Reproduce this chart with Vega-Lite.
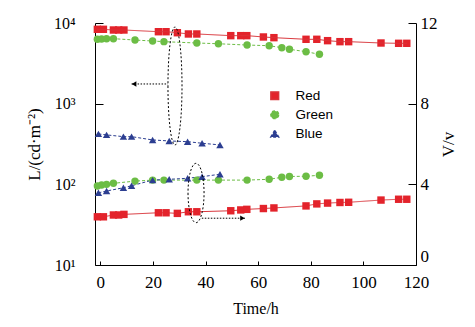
{
  "$schema": "https://vega.github.io/schema/vega-lite/v6.json",
  "width": 321,
  "height": 242,
  "autosize": {"type": "none"},
  "padding": {"left": 95, "top": 23, "right": 59, "bottom": 62},
  "config": {"view": {"stroke": null}, "font": "Liberation Serif"},
  "datasets": {
    "main": [
      {"s": "Red", "t": -1.1, "L": 8350, "V": 2.39},
      {"s": "Red", "t": 1.2, "L": 8350, "V": 2.39},
      {"s": "Red", "t": 5.0, "L": 8190, "V": 2.48},
      {"s": "Red", "t": 7.0, "L": 8190, "V": 2.48},
      {"s": "Red", "t": 9.0, "L": 8190, "V": 2.51},
      {"s": "Red", "t": 22.1, "L": 7800, "V": 2.59},
      {"s": "Red", "t": 25.0, "L": 7800, "V": 2.59},
      {"s": "Red", "t": 29.3, "L": 7580, "V": 2.56},
      {"s": "Red", "t": 33.5, "L": 7310, "V": 2.64},
      {"s": "Red", "t": 36.7, "L": 7310, "V": 2.64},
      {"s": "Red", "t": 49.6, "L": 6970, "V": 2.69},
      {"s": "Red", "t": 53.4, "L": 6970, "V": 2.73},
      {"s": "Red", "t": 55.7, "L": 6970, "V": 2.76},
      {"s": "Red", "t": 62.0, "L": 6710, "V": 2.8},
      {"s": "Red", "t": 66.0, "L": 6580, "V": 2.83},
      {"s": "Red", "t": 78.2, "L": 6280, "V": 2.93},
      {"s": "Red", "t": 82.3, "L": 6280, "V": 3.03},
      {"s": "Red", "t": 86.4, "L": 6040, "V": 3.07},
      {"s": "Red", "t": 91.1, "L": 5870, "V": 3.1},
      {"s": "Red", "t": 94.4, "L": 5870, "V": 3.11},
      {"s": "Red", "t": 106.7, "L": 5650, "V": 3.22},
      {"s": "Red", "t": 113.4, "L": 5600, "V": 3.26},
      {"s": "Red", "t": 116.5, "L": 5600, "V": 3.26},
      {"s": "Green", "t": -1.1, "L": 6280, "V": 3.92},
      {"s": "Green", "t": 0.5, "L": 6340, "V": 3.97},
      {"s": "Green", "t": 2.4, "L": 6390, "V": 4.0},
      {"s": "Green", "t": 5.0, "L": 6390, "V": 4.05},
      {"s": "Green", "t": 13.2, "L": 6150, "V": 4.16},
      {"s": "Green", "t": 19.9, "L": 5980, "V": 4.21},
      {"s": "Green", "t": 24.2, "L": 5870, "V": 4.21},
      {"s": "Green", "t": 36.7, "L": 5650, "V": 4.21},
      {"s": "Green", "t": 44.9, "L": 5530, "V": 4.21},
      {"s": "Green", "t": 55.8, "L": 5330, "V": 4.21},
      {"s": "Green", "t": 64.2, "L": 5230, "V": 4.25},
      {"s": "Green", "t": 69.0, "L": 4940, "V": 4.35},
      {"s": "Green", "t": 71.9, "L": 4720, "V": 4.39},
      {"s": "Green", "t": 78.2, "L": 4410, "V": 4.4},
      {"s": "Green", "t": 83.3, "L": 4090, "V": 4.45},
      {"s": "Blue", "t": -0.7, "L": 422, "V": 3.58},
      {"s": "Blue", "t": 2.4, "L": 410, "V": 3.67},
      {"s": "Blue", "t": 8.8, "L": 390, "V": 3.83},
      {"s": "Blue", "t": 11.9, "L": 390, "V": 3.93},
      {"s": "Blue", "t": 19.9, "L": 355, "V": 4.21},
      {"s": "Blue", "t": 26.2, "L": 345, "V": 4.25},
      {"s": "Blue", "t": 33.2, "L": 338, "V": 4.3},
      {"s": "Blue", "t": 38.7, "L": 323, "V": 4.38},
      {"s": "Blue", "t": 45.5, "L": 308, "V": 4.5}
    ],
    "ellL": [{"t": 28.4, "L": 1656}],
    "arrL": [{"t": 11.9, "t2": 25.7, "L": 1754}],
    "ellV": [{"t": 36.4, "V": 3.57}],
    "arrV": [{"t": 38.6, "t2": 55.0, "V": 2.32}]
  },
  "layer": [
    {
      "encoding": {
        "x": {
          "field": "t", "type": "quantitative",
          "scale": {"domain": [-2, 120], "nice": false, "zero": false},
          "axis": {
            "orient": "bottom", "values": [0, 20, 40, 60, 80, 100, 120],
            "grid": false, "tickSize": -4, "labelPadding": 13,
            "labelFont": "Liberation Serif", "labelFontSize": 17, "labelColor": "black",
            "labelFlush": false,
            "domainColor": "black", "tickColor": "black",
            "title": "Time/h", "titleFont": "Liberation Serif", "titleFontSize": 16,
            "titleFontWeight": "normal", "titleColor": "black", "titlePadding": 10
          }
        },
        "y": {
          "field": "L", "type": "quantitative",
          "scale": {"type": "log", "domain": [10, 10000], "nice": false},
          "axis": {
            "orient": "left", "values": [10, 100, 1000, 10000], "grid": false,
            "tickSize": -8, "labelPadding": 28,
            "labelExpr": "datum.value == 10 ? '10¹' : datum.value == 100 ? '10²' : datum.value == 1000 ? '10³' : '10⁴'",
            "labelFont": "Liberation Serif", "labelFontSize": 16, "labelColor": "black",
            "domainColor": "black", "tickColor": "black",
            "title": "L/(cd·m⁻²)", "titleFont": "Liberation Serif", "titleFontSize": 17,
            "titleFontWeight": "normal", "titleColor": "black", "titlePadding": 10
          }
        }
      },
      "layer": [
        {
          "data": {"name": "main"},
          "mark": {"type": "point", "filled": true, "opacity": 1, "size": 55},
          "encoding": {
            "color": {
              "field": "s", "type": "nominal",
              "scale": {"domain": ["Red", "Green", "Blue"], "range": ["#e3232b", "#6cbd45", "#2c3e91"]},
              "legend": {
                "orient": "none", "legendX": 173, "legendY": 66, "title": null,
                "labelFont": "Liberation Sans", "labelFontSize": 13.5, "labelColor": "black",
                "symbolSize": 60, "labelOffset": 14, "rowPadding": 4
              }
            },
            "shape": {"field": "s", "type": "nominal", "legend": null,
              "scale": {"domain": ["Red", "Green", "Blue"], "range": ["square", "circle", "triangle-up"]}}
          }
        },
        {
          "data": {"name": "main"},
          "mark": {"type": "line", "strokeWidth": 1},
          "encoding": {
            "stroke": {"field": "s", "type": "nominal", "legend": null,
              "scale": {"domain": ["Red", "Green", "Blue"], "range": ["#d9343a", "#6cbd45", "#2c3e91"]}},
            "strokeDash": {"field": "s", "type": "nominal", "legend": null,
              "scale": {"domain": ["Red", "Green", "Blue"], "range": [[1, 0], [3, 2], [3, 2]]}}
          }
        },
        {
          "data": {"name": "ellL"},
          "mark": {"type": "point", "filled": false, "stroke": "black", "strokeWidth": 1, "strokeDash": [2, 2], "opacity": 1, "size": 13924,
            "shape": "M-0.119,0A0.119,1,0,1,0,0.119,0A0.119,1,0,1,0,-0.119,0Z"}
        },
        {
          "data": {"name": "arrL"},
          "mark": {"type": "rule", "color": "black", "strokeWidth": 1, "strokeDash": [1.5, 1.5]},
          "encoding": {"x2": {"field": "t2"}}
        },
        {
          "data": {"name": "arrL"},
          "mark": {"type": "point", "shape": "triangle-left", "filled": true, "color": "black", "opacity": 1, "size": 28, "xOffset": 2.5}
        }
      ]
    },
    {
      "encoding": {
        "x": {"field": "t", "type": "quantitative"},
        "y": {
          "field": "V", "type": "quantitative",
          "scale": {"domain": [0, 12], "nice": false},
          "axis": {
            "orient": "right", "values": [0, 4, 8, 12], "grid": false,
            "tickSize": -8, "labelPadding": 12,
            "labelBaseline": {"condition": {"test": "datum.value == 0", "value": "bottom"}, "value": "middle"},
            "labelFont": "Liberation Serif", "labelFontSize": 17, "labelColor": "black",
            "domainColor": "black", "tickColor": "black",
            "title": "V/v", "titleFont": "Liberation Serif", "titleFontSize": 17,
            "titleFontWeight": "normal", "titleColor": "black", "titlePadding": 20, "titleAngle": 270
          }
        }
      },
      "layer": [
        {
          "data": {"name": "main"},
          "mark": {"type": "line", "strokeWidth": 1},
          "encoding": {
            "stroke": {"field": "s", "type": "nominal", "legend": null},
            "strokeDash": {"field": "s", "type": "nominal", "legend": null}
          }
        },
        {
          "data": {"name": "main"},
          "mark": {"type": "point", "filled": true, "opacity": 1, "size": 55, "strokeWidth": 0},
          "encoding": {
            "fill": {"field": "s", "type": "nominal", "legend": null,
              "scale": {"domain": ["Red", "Green", "Blue"], "range": ["#e3232b", "#6cbd45", "#2c3e91"]}},
            "shape": {"field": "s", "type": "nominal", "legend": null}
          }
        },
        {
          "data": {"name": "ellV"},
          "mark": {"type": "point", "filled": false, "stroke": "black", "strokeWidth": 1, "strokeDash": [2, 2], "opacity": 1, "size": 3528,
            "shape": "M-0.27,0A0.27,1,0,1,0,0.27,0A0.27,1,0,1,0,-0.27,0Z"}
        },
        {
          "data": {"name": "arrV"},
          "mark": {"type": "rule", "color": "black", "strokeWidth": 1, "strokeDash": [1.5, 1.5]},
          "encoding": {"x2": {"field": "t2"}}
        },
        {
          "data": {"name": "arrV"},
          "mark": {"type": "point", "shape": "triangle-right", "filled": true, "color": "black", "opacity": 1, "size": 28, "xOffset": -2.5},
          "encoding": {"x": {"field": "t2", "type": "quantitative"}}
        }
      ]
    }
  ],
  "resolve": {"scale": {"y": "independent"}}
}
